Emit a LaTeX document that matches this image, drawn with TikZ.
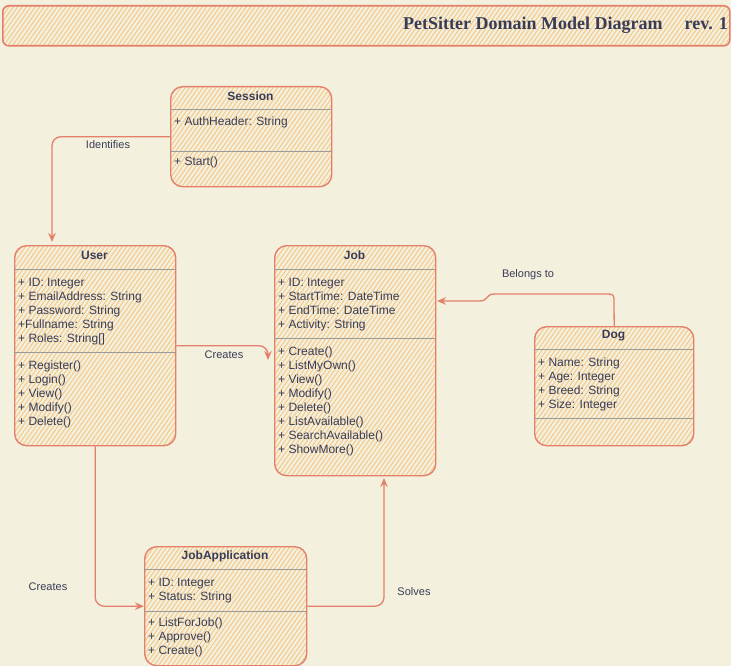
\documentclass[tikz,border=0pt]{standalone}
\usepackage{fontspec}
\setmainfont{Liberation Sans}
\newfontfamily\titlefont{Liberation Serif}
\usetikzlibrary{patterns.meta,arrows.meta,calc}
\definecolor{bgc}{HTML}{F4F0DE}
\definecolor{strk}{HTML}{E4806A}
\definecolor{hatch}{HTML}{F3CB8E}
\definecolor{txt}{HTML}{393C56}
\definecolor{divc}{HTML}{9A9A9A}
\tikzset{
  hatched/.style={draw=strk, line width=1.4pt, pattern={Lines[angle=55,distance=3.6pt,line width=1.1pt]}, pattern color=hatch},
  classbox/.style={hatched, rounded corners=12pt, anchor=north west, inner sep=0pt},
  hdr/.style={font=\bfseries\fontsize{12}{14}\selectfont, text=txt, inner sep=0pt},
  mem/.style={font=\fontsize{12}{14}\selectfont, text=txt, anchor=west, inner sep=0pt, text height=9pt, text depth=3pt},
  lbl/.style={font=\fontsize{11}{13}\selectfont, text=txt, inner sep=1pt},
  divline/.style={draw=divc, line width=0.9pt},
  connline/.style={draw=strk, line width=1.3pt, -{Stealth[length=9pt,width=7.5pt]}},
  conn/.style={connline, rounded corners=9pt}
}
\begin{document}
\begin{tikzpicture}[x=1pt,y=-1pt]
\useasboundingbox[fill=bgc] (0,0) rectangle (731,666);

% title
\node[hatched, line width=1.6pt, rounded corners=6pt, anchor=north west, inner sep=0pt, minimum width=727pt, minimum height=40pt] (title) at (2,5) {};
\node[anchor=east, inner sep=0pt, font=\titlefont\bfseries\fontsize{18}{21}\selectfont, text=txt] (ttl) at (728,25) {PetSitter Domain Model Diagram\hspace{22pt}rev. 1};

% Session
\node[classbox, minimum width=161pt, minimum height=100pt] (session) at (170,86) {};
\node[hdr] (sessionT) at (250.5,96) {Session};
\draw[divline] (170,109) -- (331,109);
\draw[divline] (170,151) -- (331,151);
\node[mem] (sa1) at (174,123) {+ AuthHeader: String};
\node[mem] (sm1) at (174,163) {+ Start()};

% User
\node[classbox, minimum width=161pt, minimum height=200pt] (user) at (14,245) {};
\node[hdr] (userT) at (94.5,255) {User};
\draw[divline] (14,269) -- (175,269);
\draw[divline] (14,352) -- (175,352);
\foreach \t [count=\i] in {{+ ID: Integer},{+ EmailAddress: String},{+ Password: String},{+Fullname: String},{+ Roles: String[]}}
  \node[mem] (ua\i) at (18,{269+14*\i}) {\t};
\foreach \t [count=\i] in {{+ Register()},{+ Login()},{+ View()},{+ Modify()},{+ Delete()}}
  \node[mem] (um\i) at (18,{352+14*\i}) {\t};

% Job
\node[classbox, minimum width=161pt, minimum height=230pt] (job) at (274,245) {};
\node[hdr] (jobT) at (354.5,255) {Job};
\draw[divline] (274,269) -- (435,269);
\draw[divline] (274,338) -- (435,338);
\foreach \t [count=\i] in {{+ ID: Integer},{+ StartTime: DateTime},{+ EndTime: DateTime},{+ Activity: String}}
  \node[mem] (ja\i) at (278,{269+14*\i}) {\t};
\foreach \t [count=\i] in {{+ Create()},{+ ListMyOwn()},{+ View()},{+ Modify()},{+ Delete()},{+ ListAvailable()},{+ SearchAvailable()},{+ ShowMore()}}
  \node[mem] (jm\i) at (278,{338+14*\i}) {\t};

% Dog
\node[classbox, minimum width=159pt, minimum height=119pt] (dog) at (534,326) {};
\node[hdr] (dogT) at (613.5,336) {Dog};
\draw[divline] (534,349) -- (693,349);
\draw[divline] (534,418) -- (693,418);
\foreach \t [count=\i] in {{+ Name: String},{+ Age: Integer},{+ Breed: String},{+ Size: Integer}}
  \node[mem] (da\i) at (538,{349+14*\i}) {\t};

% JobApplication
\node[classbox, minimum width=162pt, minimum height=119pt] (japp) at (144,546) {};
\node[hdr] (jappT) at (225,556) {JobApplication};
\draw[divline] (144,569) -- (306,569);
\draw[divline] (144,611) -- (306,611);
\foreach \t [count=\i] in {{+ ID: Integer},{+ Status: String}}
  \node[mem] (pa\i) at (148,{569+14*\i}) {\t};
\foreach \t [count=\i] in {{+ ListForJob()},{+ Approve()},{+ Create()}}
  \node[mem] (pm\i) at (148,{609+14*\i}) {\t};

% connectors
\coordinate (idEnd) at (52,242);
\draw[conn] (session.west) -| (idEnd);
\node[lbl] (lIdent) at (108,145) {Identifies};

\coordinate (crEnd) at (268,360);
\draw[conn] (user.east) -| (crEnd);
\node[lbl] (lCreates1) at (224,355) {Creates};

\draw[conn] (user.south) |- (japp.west);
\node[lbl] (lCreates2) at (48,587) {Creates};

\coordinate (svEnd) at (384,478);
\draw[conn] (japp.east) -| (svEnd);
\node[lbl] (lSolves) at (414,592) {Solves};

\coordinate (bgEnd) at (437,301);
\draw[connline]
  (dog.north) -- (614,303) .. controls (614,294) and (614,294) .. (605,294) -- (494,294)
  .. controls (486,294) and (488,301) .. (480,301) -- (bgEnd);
\node[lbl] (lBelongs) at (528,275) {Belongs to};
\end{tikzpicture}
\end{document}
